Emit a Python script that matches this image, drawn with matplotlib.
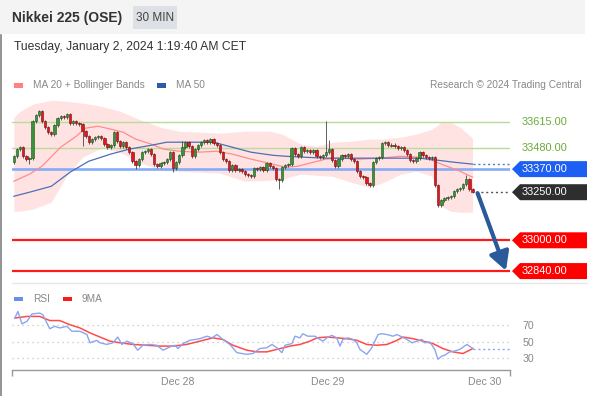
import matplotlib
matplotlib.use('Agg')
import matplotlib.pyplot as plt
from matplotlib.patches import Rectangle, Polygon
from matplotlib.lines import Line2D
from matplotlib.transforms import IdentityTransform, blended_transform_factory

plt.rcParams['font.family'] = ['Liberation Sans', 'DejaVu Sans']

# --- data (30 min candles, Nikkei 225 OSE) ---
open0 = 33406
closes = [33437, 33474, 33484, 33437, 33422, 33427, 33619, 33650, 33671, 33619,
          33588, 33562, 33552, 33598, 33635, 33645, 33640, 33656, 33609, 33619,
          33609, 33604, 33567, 33541, 33510, 33526, 33536, 33541, 33531, 33500,
          33484, 33494, 33562, 33515, 33489, 33510, 33484, 33458, 33411, 33390,
          33422, 33458, 33463, 33474, 33448, 33396, 33385, 33401, 33406, 33422,
          33458, 33375, 33406, 33442, 33484, 33510, 33489, 33437, 33474, 33494,
          33510, 33520, 33510, 33526, 33505, 33494, 33458, 33422, 33411, 33364,
          33390, 33364, 33370, 33359, 33344, 33338, 33333, 33375, 33370, 33380,
          33364, 33401, 33385, 33375, 33318, 33312, 33380, 33390, 33396, 33479,
          33448, 33437, 33484, 33463, 33468, 33458, 33468, 33437, 33432, 33442,
          33458, 33474, 33416, 33385, 33422, 33442, 33437, 33448, 33422, 33411,
          33359, 33333, 33328, 33297, 33286, 33406, 33427, 33432, 33505, 33510,
          33494, 33496, 33489, 33479, 33484, 33468, 33448, 33416, 33411, 33427,
          33458, 33442, 33432, 33427, 33432, 33286, 33182, 33208, 33219, 33224,
          33229, 33255, 33266, 33271, 33292, 33318, 33266, 33250]
high_wicks = {54: 33515, 100: 33619, 101: 33520, 145: 33338}
low_wicks = {5: 33396, 22: 33489, 39: 33370, 51: 33355, 85: 33266, 136: 33172, 147: 33245}

bb_bar = [0, 2, 6, 12, 17, 22, 28, 34, 40, 47, 53, 60, 66, 74, 82, 86, 92, 97, 102,
          108, 114, 118, 124, 129, 134, 137, 140, 143, 147]
bb_upper = [33640, 33671, 33708, 33728, 33723, 33713, 33697, 33671, 33630, 33588,
            33567, 33562, 33557, 33567, 33567, 33552, 33500, 33489, 33510, 33515,
            33526, 33526, 33536, 33552, 33578, 33614, 33614, 33588, 33531]
bb_lower = [33151, 33151, 33162, 33198, 33338, 33432, 33479, 33458, 33406, 33364,
            33359, 33354, 33349, 33307, 33312, 33318, 33344, 33338, 33333, 33302,
            33276, 33297, 33344, 33359, 33333, 33177, 33151, 33146, 33146]

ma20_bar = [0, 5, 9, 15, 20, 23, 27, 31, 35, 39, 44, 48, 53, 59, 65, 70, 76, 83, 87, 91,
            96, 100, 104, 111, 117, 124, 130, 133, 137, 143, 147]
ma20 = [33307, 33344, 33385, 33484, 33541, 33583, 33593, 33578, 33562, 33526, 33500,
        33474, 33463, 33458, 33463, 33448, 33422, 33396, 33380, 33385, 33406, 33422,
        33427, 33422, 33427, 33437, 33432, 33422, 33396, 33359, 33328]

ma50_bar = [0, 5, 12, 18, 24, 31, 37, 44, 49, 55, 64, 70, 76, 83, 87, 93, 100, 130, 136, 141, 147]
ma50 = [33229, 33250, 33281, 33354, 33411, 33448, 33474, 33494, 33510, 33510, 33510,
        33484, 33458, 33442, 33437, 33432, 33427, 33427, 33416, 33406, 33396]

rsi_bar = [0.3, 1.3, 2.6, 4.2, 5.8, 8.3, 9.3, 11.5, 13.1, 14.7, 17.0, 18.6, 21.2, 23.4,
           24.4, 26.6, 27.6, 29.8, 31.7, 33.3, 34.6, 36.2, 38.1, 39.7, 41.3, 43.6, 45.8,
           47.8, 50.0, 51.6, 52.6, 54.2, 56.4, 59.6, 61.9, 63.5, 65.1, 67.0, 69.2, 71.5,
           74.7, 76.6, 78.8, 81.1, 82.7, 84.3, 85.9, 86.9, 89.1, 90.1, 91.7, 92.6, 94.2,
           96.5, 98.1, 99.0, 100.3, 101.9, 103.5, 104.5, 105.4, 107.1, 108.7, 109.9,
           110.9, 113.1, 114.7, 115.7, 116.7, 117.9, 119.6, 121.5, 122.8, 124.4, 126.0,
           127.6, 129.2, 130.8, 131.7, 133.3, 134.9, 135.9, 137.2, 138.1, 139.7, 141.3,
           142.9, 145.2, 147.1]
rsi_val = [79, 87, 72, 75, 84, 85, 83, 66, 69, 67, 69, 63, 63, 59, 49, 52, 49, 47, 49, 56,
           47, 51, 48, 40, 46, 47, 46, 40, 44, 46, 42, 48, 52, 54, 57, 55, 59, 53, 47, 37,
           35, 36, 42, 43, 47, 43, 37, 46, 48, 57, 55, 60, 57, 57, 53, 51, 55, 58, 55, 45,
           53, 55, 53, 49, 41, 35, 43, 51, 59, 60, 59, 57, 59, 56, 53, 49, 51, 53, 49, 50,
           41, 29, 33, 34, 38, 39, 41, 47, 42]
ma9_bar = [0.3, 4.2, 8.3, 11.5, 14.7, 17.9, 21.2, 24.4, 27.6, 30.8, 34.0, 38.1, 42.6,
           46.8, 51.0, 55.4, 59.6, 63.8, 67.0, 70.2, 74.7, 77.9, 81.1, 85.3, 88.5, 91.7,
           94.9, 97.1, 100.3, 103.5, 106.7, 109.9, 113.1, 116.3, 119.6, 122.8, 124.7,
           127.9, 131.1, 134.3, 137.5, 140.7, 143.9, 147.1]
ma9_val = [79, 81, 81, 76, 76, 71, 67, 61, 56, 51, 49, 47, 46, 45, 45, 47, 51, 55, 53, 46,
           40, 38, 38, 42, 45, 47, 51, 55, 56, 55, 54, 52, 47, 46, 47, 52, 56, 54, 51, 48,
           42, 38, 36, 42]

day_ticks = [52.6, 100.6, 151.0]
day_labels = ['Dec 28', 'Dec 29', 'Dec 30']
rsi_levels = [70, 50, 30]

resist = [33615, 33480]
pivot = 33370
last_price = 33250
supports = [33000, 32840]
forecast_from = (148.6, 33245)
forecast_to = (157.7, 32842)

# --- figure ---
W, H = 589, 396
fig = plt.figure(figsize=(W / 100, H / 100), dpi=100)


def fx(px):
    return px / W


def fy(py):
    return 1 - py / H


# header
fig.add_artist(Rectangle((0, fy(34)), fx(585), 34 / H, transform=fig.transFigure,
                         color='#f4f4f4', lw=0))
fig.text(fx(12), fy(18), 'Nikkei 225 (OSE)', weight='bold', size=10, color='#333', va='center')
fig.add_artist(Rectangle((fx(133), fy(29)), 44 / W, 23 / H, transform=fig.transFigure,
                         color='#dde0e4', lw=0))
fig.text(fx(155), fy(18), '30 MIN', ha='center', va='center', size=8.5, color='#444')
fig.add_artist(Line2D([fx(0.6), fx(0.6)], [fy(35), 0], transform=fig.transFigure,
                      color='#777', lw=1.1))
fig.text(fx(14), fy(47), 'Tuesday, January 2, 2024 1:19:40 AM CET', size=8.7,
         color='#333', va='center')

# legends
fig.add_artist(Rectangle((fx(14), fy(87.5)), 9 / W, 4.5 / H, transform=fig.transFigure,
                         color='#ff8080', lw=0))
fig.text(fx(33), fy(85.5), 'MA 20 + Bollinger Bands', size=7.3, color='#888', va='center')
fig.add_artist(Rectangle((fx(157), fy(87.5)), 9 / W, 4.5 / H, transform=fig.transFigure,
                         color='#2f5aa8', lw=0))
fig.text(fx(176), fy(85.5), 'MA 50', size=7.3, color='#888', va='center')
fig.text(fx(582), fy(85.5), 'Research \u00a9 2024 Trading Central', size=7.3, color='#888',
         va='center', ha='right')

fig.add_artist(Rectangle((fx(14), fy(301)), 9 / W, 4.5 / H, transform=fig.transFigure,
                         color='#6b8ee8', lw=0))
fig.text(fx(33), fy(299), 'RSI', size=7.3, color='#888', va='center')
fig.add_artist(Rectangle((fx(63), fy(301)), 9 / W, 4.5 / H, transform=fig.transFigure,
                         color='#ff1a1a', lw=0))
fig.text(fx(82), fy(299), '9MA', size=7.3, color='#888', va='center')

fig.add_artist(Line2D([fx(12), fx(587)], [fy(283), fy(283)], transform=fig.transFigure,
                      color='#e8e8e8', lw=1))

# main price panel
ax = fig.add_axes([fx(12), fy(283), 498 / W, 186 / H])
ax.axis('off')
ax.set_xlim(-0.6, 159.0)
ax.set_ylim(32778, 33745)

ax.fill_between(bb_bar, bb_lower, bb_upper, color='#ffe3e3', lw=0, zorder=1)
ax.plot(ma20_bar, ma20, color='#ff8c8c', lw=0.9, zorder=2)
ax.plot(ma50_bar, ma50, color='#4d6fb5', lw=0.9, zorder=2)

for p in resist:
    ax.axhline(p, color='#b9dc9c', lw=1, zorder=1.5)
ax.axhline(pivot, color='#84abf7', lw=1.9, zorder=1.5)
for p in supports:
    ax.axhline(p, color='#ff1a1a', lw=1.6, zorder=1.5)

opens = [open0] + closes[:-1]
for i, (o, c) in enumerate(zip(opens, closes)):
    hi = high_wicks.get(i, max(o, c) + 8)
    lo = low_wicks.get(i, min(o, c) - 8)
    ax.vlines(i, lo, hi, color='#444', lw=0.6, zorder=3)
    up = c >= o
    body = c - o if abs(c - o) > 3 else 3
    ax.bar(i, body, bottom=o if abs(c - o) > 3 else o - 1.5, width=0.74,
           color='#379437' if up else '#e3171c', edgecolor='#1f4f1f' if up else '#6e0c0c',
           lw=0.4, zorder=4)

x_end = ax.get_xlim()[1]
ax.plot([ma50_bar[-1], x_end], [ma50[-1], ma50[-1]], color='#5a78b8', lw=1,
        ls=(0, (1.5, 2)), zorder=2)
ax.plot([len(closes), x_end], [last_price, last_price], color='#555', lw=1,
        ls=(0, (1.5, 2)), zorder=2)

ax.annotate('', xy=forecast_to, xytext=forecast_from, annotation_clip=False,
            arrowprops=dict(arrowstyle='-|>,head_length=1.1,head_width=0.6',
                            color='#2b5a9c', lw=3, shrinkA=0, shrinkB=0), zorder=6)

# right-hand price labels
right_px = ax.transAxes.transform((1, 0))[0]
inv = fig.transFigure.inverted()


def tag(price, color, text_color='white'):
    y = ax.transData.transform((0, price))[1]
    x0 = right_px + 2
    verts = [(x0, y), (x0 + 8, y + 8), (587, y + 8), (587, y - 8), (x0 + 8, y - 8)]
    fig.add_artist(Polygon(verts, closed=True, transform=IdentityTransform(),
                           color=color, lw=0))
    tx, ty = inv.transform((x0 + 10, y))
    fig.text(tx, ty, f'{price:.2f}', color=text_color, size=7.9, va='center')


lab_tr = blended_transform_factory(ax.transAxes, ax.transData)
for p in resist:
    ax.text(1 + 12 / 498, p, f'{p:.2f}', transform=lab_tr, color='#6aaa3a', size=7.9,
            va='center')
tag(pivot, '#1c5ff2')
tag(last_price, '#2e2e2e')
for p in supports:
    tag(p, '#ff0000')

# RSI panel
ax2 = fig.add_axes([fx(12), fy(370), 498 / W, 62 / H])
ax2.set_xlim(-0.6, 159.0)
ax2.set_ylim(16.0, 91.2)
for s in ['top', 'left', 'right']:
    ax2.spines[s].set_visible(False)
ax2.spines['bottom'].set_color('#999')
ax2.spines['bottom'].set_linewidth(1)
for lv in rsi_levels:
    ax2.axhline(lv, color='#c4c4c4', lw=0.9, ls=(0, (1, 3)), zorder=1)
ax2.plot(rsi_bar, rsi_val, color='#8aa6f0', lw=1, zorder=3)
ax2.plot(ma9_bar, ma9_val, color='#ff4a4a', lw=1.1, zorder=2)
ax2.plot([rsi_bar[-1], x_end], [rsi_val[-1] - 1, rsi_val[-1] - 1], color='#8aa6f0',
         lw=1, ls=(0, (1.5, 2)), zorder=2)

ax2.set_xticks(day_ticks)
ax2.set_xticklabels(day_labels)
ax2.set_xticks([ax2.get_xlim()[0] + 0.15, ax2.get_xlim()[1] - 0.15], minor=True)
ax2.tick_params(axis='x', which='major', length=0, pad=5, labelsize=7.6, labelcolor='#888')
ax2.tick_params(axis='x', which='minor', length=4, width=1, color='#999')
ax2.yaxis.tick_right()
ax2.set_yticks(rsi_levels)
ax2.tick_params(axis='y', length=0, pad=9, labelsize=7.6, labelcolor='#888')

fig.savefig('out.png', dpi=100)
